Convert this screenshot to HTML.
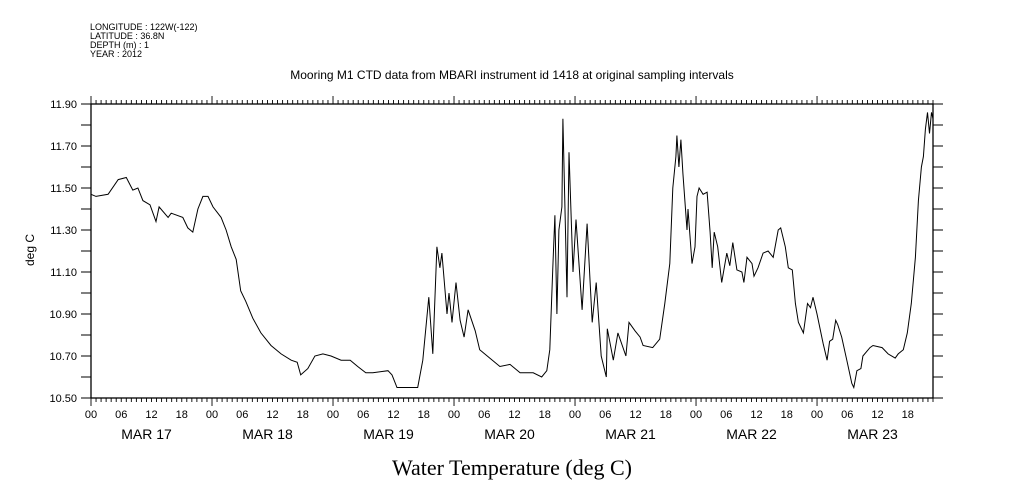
<!DOCTYPE html>
<html><head><meta charset="utf-8"><style>
html,body{margin:0;padding:0;background:#fff;}
svg{display:block;font-family:"Liberation Sans",sans-serif;}
</style></head><body>
<svg id="chart" width="1009" height="504" viewBox="0 0 1009 504" xmlns="http://www.w3.org/2000/svg">
<g font-size="9" fill="#000">
<text x="90" y="30">LONGITUDE : 122W(-122)</text>
<text x="90" y="39">LATITUDE : 36.8N</text>
<text x="90" y="48">DEPTH (m) : 1</text>
<text x="90" y="57">YEAR : 2012</text>
</g>
<text x="512" y="79" font-size="12" text-anchor="middle">Mooring M1 CTD data from MBARI instrument id 1418 at original sampling intervals</text>
<text x="512" y="475" font-size="22" text-anchor="middle" font-family="'Liberation Serif',serif">Water Temperature (deg C)</text>
<text transform="translate(34,250) rotate(-90)" font-size="12" text-anchor="middle">deg C</text>
<g id="axes"></g>
<g id="series"></g>
</svg>
<script>
const hours=[0,1,3.4,5.4,7,8.3,9.3,10.3,11.7,12.9,13.5,15.3,15.9,18.2,19.2,20.2,21.2,22.2,23.2,24.2,25.8,26.8,27.8,28.8,29.7,30.7,32.1,33.7,35.7,37.7,39.7,40.9,41.6,43,44.4,46,47.6,49.6,51.4,52.9,54.5,55.9,58.9,59.7,60.7,62.7,64.8,65.8,67,67.8,68.6,69.2,69.6,70.6,71,71.6,72.4,73.2,74,74.8,76.2,77.1,79.1,81.1,83.1,85.1,87.7,89.4,90.4,91,91.6,92,92.4,92.8,93.4,93.6,94.4,94.8,95.6,96.2,97.4,98.4,99.4,100.2,101.2,102.2,102.4,103.6,104.5,106.1,106.7,107.9,108.9,109.5,111.4,112.8,113.8,114.8,115.4,116,116.2,116.6,117,117.4,118.2,118.4,119.2,119.8,120.2,120.6,121.4,122.2,122.8,123.2,123.6,124.3,125.1,126.1,126.7,127.3,128.1,129.1,129.5,130.1,131.1,131.5,132.3,133.3,134.3,135.3,136.3,136.8,137.7,138.3,139.1,139.7,140.3,141.3,142.1,142.7,143.2,144,145.2,146,146.5,147.1,147.7,148.1,148.9,149.9,150.9,151.3,151.9,152.7,153.1,154.5,155.1,156.9,158.1,159.5,160.1,161.1,161.9,162.7,163.5,164.1,164.7,165.1,165.5,165.9,166.3,166.7,167];
const temps=[11.47,11.46,11.47,11.54,11.55,11.49,11.50,11.44,11.42,11.34,11.41,11.36,11.38,11.36,11.31,11.29,11.40,11.46,11.46,11.41,11.36,11.30,11.22,11.16,11.01,10.96,10.88,10.81,10.75,10.71,10.68,10.67,10.61,10.64,10.70,10.71,10.70,10.68,10.68,10.65,10.62,10.62,10.63,10.61,10.55,10.55,10.55,10.68,10.98,10.71,11.22,11.12,11.19,10.90,11.00,10.86,11.05,10.87,10.79,10.92,10.82,10.73,10.69,10.65,10.66,10.62,10.62,10.60,10.63,10.73,11.12,11.37,10.90,11.30,11.41,11.83,10.98,11.67,11.10,11.35,10.92,11.33,10.86,11.05,10.70,10.60,10.83,10.68,10.81,10.70,10.86,10.82,10.79,10.75,10.74,10.78,10.95,11.14,11.50,11.65,11.75,11.60,11.73,11.57,11.30,11.40,11.14,11.22,11.46,11.50,11.47,11.48,11.29,11.12,11.29,11.22,11.05,11.19,11.13,11.24,11.11,11.10,11.05,11.17,11.14,11.08,11.12,11.19,11.20,11.17,11.30,11.31,11.22,11.12,11.11,10.95,10.86,10.81,10.95,10.93,10.98,10.90,10.76,10.68,10.77,10.78,10.87,10.85,10.79,10.68,10.57,10.55,10.63,10.64,10.70,10.74,10.75,10.74,10.71,10.69,10.71,10.73,10.81,10.95,11.17,11.44,11.60,11.65,11.78,11.86,11.76,11.86,11.83];
const yTickLabels=["10.50","10.70","10.90","11.10","11.30","11.50","11.70","11.90"];
const hourLabels=["00","06","12","18"];
const dayLabels=["MAR 17","MAR 18","MAR 19","MAR 20","MAR 21","MAR 22","MAR 23"];

const X0=91,X1=933,Y0=398,Y1=104,HMAX=167,VMIN=10.5,VMAX=11.9;
function xs(h){return X0+(h/HMAX)*(X1-X0);}
function ys(v){return Y0-(v-VMIN)/(VMAX-VMIN)*(Y0-Y1);}
const NS="http://www.w3.org/2000/svg";
function mk(tag,attrs,parent,text){const e=document.createElementNS(NS,tag);for(const k in attrs)e.setAttribute(k,attrs[k]);if(text!==undefined)e.textContent=text;parent.appendChild(e);return e;}
const ax=document.getElementById('axes');
const frame=mk('rect',{x:X0,y:Y1,width:X1-X0,height:Y0-Y1,fill:'none',stroke:'#000','stroke-width':1.3},ax);


for(let i=0;i<=14;i++){
  const v=VMIN+i*0.1,y=ys(v);
  const t1=mk('line',{x1:X0-10,x2:X0,y1:y,y2:y,stroke:'#000'},ax);
  
  
  const t2=mk('line',{x1:X1,x2:X1+10,y1:y,y2:y,stroke:'#000'},ax);
  
  
}
yTickLabels.forEach(l=>{
  const t=mk('text',{x:X0-14,y:ys(parseFloat(l))+4,'font-size':11,'text-anchor':'end'},ax,l);
  
  
});
for(let h=0;h<=HMAX;h++){
  const x=xs(h),big=h%24===0;
  const b=mk('line',{x1:x,x2:x,y1:Y0,y2:Y0+(big?8:4),stroke:'#000','stroke-width':0.9},ax);
  
  
  const tp=mk('line',{x1:x,x2:x,y1:Y1,y2:Y1-(big?8:4),stroke:'#000','stroke-width':0.9},ax);
  
  
  if(h%6===0){
    const t=mk('text',{x:x,y:418,'font-size':11,'text-anchor':'middle'},ax,hourLabels[(h/6)%4]);
    
    
  }
}
dayLabels.forEach((d,i)=>{
  const t=mk('text',{x:xs(i*24+12)-5,y:439,'font-size':14,'text-anchor':'middle'},ax,d);
  
  
});
const pts=hours.map((h,i)=>xs(h).toFixed(1)+','+ys(temps[i]).toFixed(1)).join(' ');
const line=mk('polyline',{points:pts,fill:'none',stroke:'#000','stroke-width':1,'stroke-linejoin':'miter'},document.getElementById('series'));


</script>
</body></html>
